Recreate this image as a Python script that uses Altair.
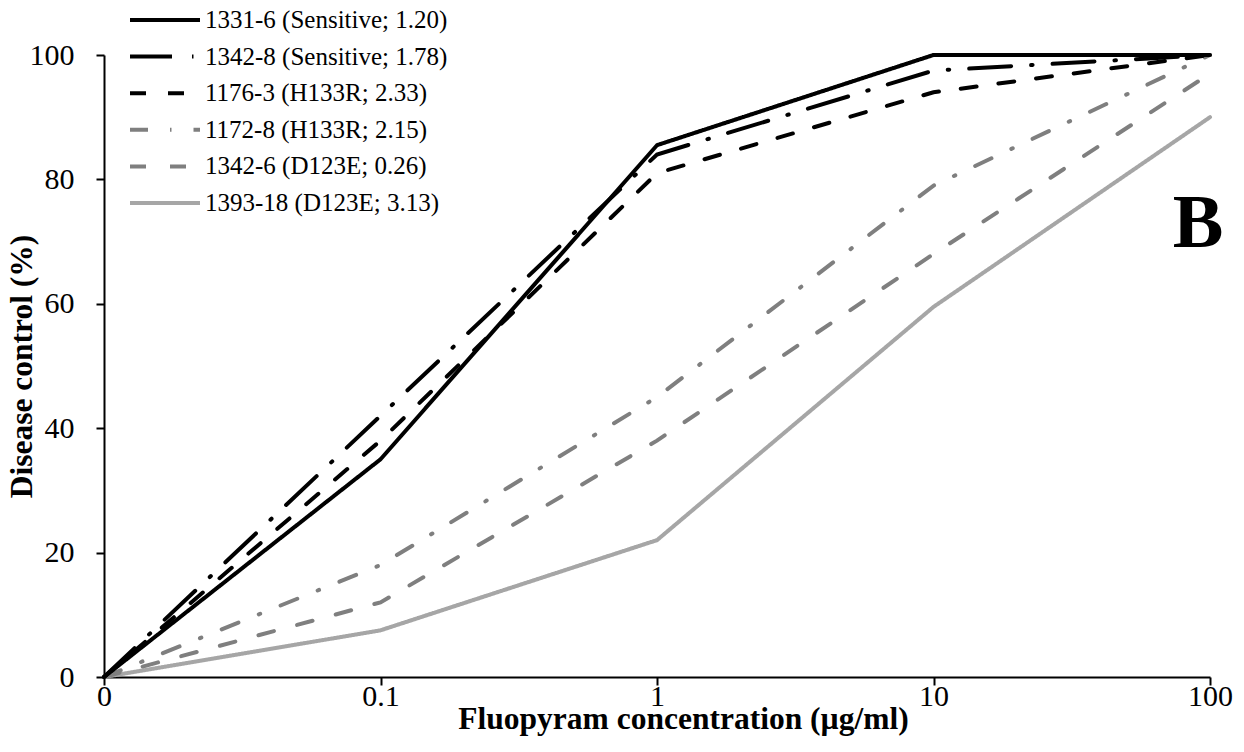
import altair as alt
import pandas as pd

conc = ["0", "0.1", "1", "10", "100"]
names = [
    "1331-6 (Sensitive; 1.20)",
    "1342-8 (Sensitive; 1.78)",
    "1176-3 (H133R; 2.33)",
    "1172-8 (H133R; 2.15)",
    "1342-6 (D123E; 0.26)",
    "1393-18 (D123E; 3.13)",
]
v_1331_6 = [0, 35, 85.5, 100, 100]
v_1342_8 = [0, 42, 84, 97.5, 100]
v_1176_3 = [0, 38, 81, 94, 100]
v_1172_8 = [0, 18, 45, 79, 100]
v_1342_6 = [0, 12, 38, 68, 97]
v_1393_18 = [0, 7.5, 22, 59.5, 90]
series = [v_1331_6, v_1342_8, v_1176_3, v_1172_8, v_1342_6, v_1393_18]

colors = ["#000000", "#000000", "#000000", "#7f7f7f", "#7f7f7f", "#a6a6a6"]
dashes = [[1, 0], [42, 20, 1.5, 20], [16, 22], [18, 22, 1.5, 22], [16, 24], [1, 0]]

rows = []
# draw light series first so black lines sit on top
for name, vals in reversed(list(zip(names, series))):
    for c, v in zip(conc, vals):
        rows.append({"isolate": name, "conc": c, "control": v})
df = pd.DataFrame(rows)

font = "Liberation Serif"

legend = alt.Legend(
    title=None, orient="none", legendX=24, legendY=-49,
    symbolType="stroke", symbolSize=4900, symbolStrokeWidth=4,
    clipHeight=28, rowPadding=8.6, labelFont=font, labelFontSize=25,
    labelColor="black", labelOffset=3, padding=0, labelLimit=500,
)

lines = alt.Chart(df).mark_line(strokeWidth=4, strokeCap="round").encode(
    x=alt.X("conc:N", sort=conc, scale=alt.Scale(type="point", padding=0),
            axis=alt.Axis(title="Fluopyram concentration (µg/ml)", labelAngle=0,
                          labelPadding=-4, titleX=579, titleY=51,
                          titleBaseline="alphabetic", titleAlign="center")),
    y=alt.Y("control:Q", scale=alt.Scale(domain=[0, 100]),
            axis=alt.Axis(title="Disease control (%)", values=[0, 20, 40, 60, 80, 100],
                          grid=False, labelPadding=22, titleX=-82, titleY=311,
                          titleBaseline="middle", titleAlign="center")),
    color=alt.Color("isolate:N", sort=names, scale=alt.Scale(domain=names, range=colors), legend=legend),
    strokeDash=alt.StrokeDash("isolate:N", sort=names, scale=alt.Scale(domain=names, range=dashes), legend=legend),
)

label = alt.Chart(pd.DataFrame({"t": ["B"]})).mark_text(
    fontSize=76, fontWeight="bold", font=font, align="center", baseline="alphabetic", color="black"
).encode(text="t:N", x=alt.value(1094), y=alt.value(192))

chart = alt.layer(lines, label).properties(
    width=1106, height=622, autosize="none",
    padding={"left": 96, "top": 47, "right": 26, "bottom": 60},
).configure_view(stroke=None).configure_axis(
    domainColor="black", domainWidth=2, tickColor="black", tickWidth=2, tickSize=8,
    labelFont=font, labelFontSize=30, labelColor="black",
    titleFont=font, titleFontSize=31.5, titleFontWeight="bold", titleColor="black",
)

chart.save("out.html", embed_options={"renderer": "svg", "actions": False})
